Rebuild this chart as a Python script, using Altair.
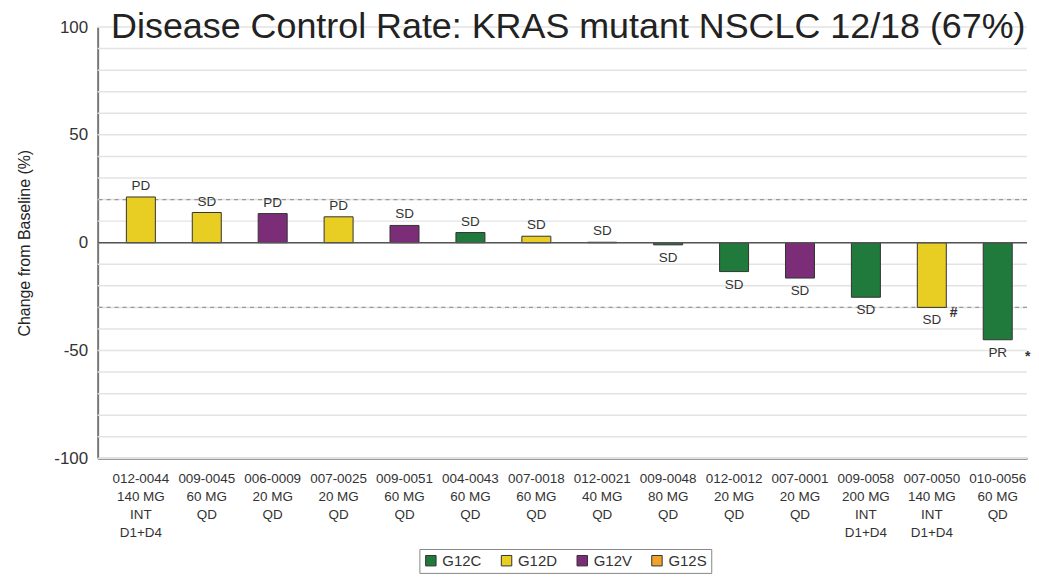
import altair as alt
import pandas as pd

patients = ["012-0044", "009-0045", "006-0009", "007-0025", "009-0051", "004-0043", "007-0018",
            "012-0021", "009-0048", "012-0012", "007-0001", "009-0058", "007-0050", "010-0056"]
doses = ["140 MG\nINT\nD1+D4", "60 MG\nQD", "20 MG\nQD", "20 MG\nQD", "60 MG\nQD", "60 MG\nQD",
         "60 MG\nQD", "40 MG\nQD", "80 MG\nQD", "20 MG\nQD", "20 MG\nQD", "200 MG\nINT\nD1+D4",
         "140 MG\nINT\nD1+D4", "60 MG\nQD"]
changes = [21.2, 14, 13.5, 12, 8, 4.7, 3, 0.2, -1, -13.4, -16.4, -25.3, -30, -45]
mutations = ["G12D", "G12D", "G12V", "G12D", "G12V", "G12C", "G12D",
             "G12S", "G12C", "G12C", "G12V", "G12C", "G12D", "G12C"]
responses = ["PD", "SD", "PD", "PD", "SD", "SD", "SD", "SD", "SD", "SD", "SD", "SD", "SD", "PR"]
markers = ["", "", "", "", "", "", "", "", "", "", "", "", "#", "*"]
thresholds = [20, -30]
y_labels = [-100, -50, 0, 50, 100]
grid_values = list(range(-100, 101, 10))

mut_domain = ["G12C", "G12D", "G12V", "G12S"]
mut_colors = ["#1f7a3c", "#e8cd22", "#7b2d77", "#f0a22c"]

df = pd.DataFrame({
    "patient": patients,
    "label": [p + "\n" + d for p, d in zip(patients, doses)],
    "change": changes,
    "mutation": mutations,
    "response": responses,
    "marker": markers,
})
order = list(df["label"])
FONT = "Liberation Sans"

x = alt.X("label:N", sort=order, title=None,
          scale=alt.Scale(paddingInner=0.56, paddingOuter=0.33, align=0.66),
          axis=alt.Axis(labelExpr="split(datum.label, '\\n')", labelAngle=0,
                        labelFontSize=13.5, labelLineHeight=18.3, labelColor="#333",
                        labelPadding=13, ticks=False, domainColor="#777",
                        domainWidth=2, labelFont=FONT, labelBaseline="top"))
y_scale = alt.Scale(domain=[-100, 100], nice=False)

grid = alt.Chart(pd.DataFrame({"v": grid_values})).mark_rule(
    color="#e3e3e3", strokeWidth=1.5).encode(y=alt.Y("v:Q", scale=y_scale))

bars = alt.Chart(df).mark_bar(stroke="#333", strokeWidth=1).encode(
    x=x,
    y=alt.Y("change:Q", scale=y_scale, title="Change from Baseline (%)",
            axis=alt.Axis(values=y_labels, grid=False,
                          labelExpr="replace(datum.label, '\u2212', '-')",
                          labelFontSize=17, labelColor="#333", labelPadding=10,
                          labelFont=FONT,
                          ticks=False, domainColor="#777", domainWidth=2,
                          titleFontSize=16, titleFontWeight="normal", titleColor="#222",
                          titleFont=FONT, titlePadding=21)),
    color=alt.Color("mutation:N", scale=alt.Scale(domain=mut_domain, range=mut_colors),
                    legend=alt.Legend(title=None, orient="none", legendX=323, legendY=524,
                                      direction="horizontal",
                                      symbolType="square", symbolSize=110,
                                      symbolStrokeColor="#333", symbolStrokeWidth=1,
                                      labelFontSize=15, labelColor="#333",
                                      labelFont=FONT,
                                      strokeColor="#888", padding=4,
                                      columnPadding=17)),
)

zero = alt.Chart(pd.DataFrame({"v": [0]})).mark_rule(color="#555", strokeWidth=1.5).encode(
    y=alt.Y("v:Q", scale=y_scale))

dashes = alt.Chart(pd.DataFrame({"v": thresholds})).mark_rule(
    color="#999", strokeDash=[4, 4], strokeWidth=1.2).encode(y=alt.Y("v:Q", scale=y_scale))

pos_lab = alt.Chart(df).transform_filter("datum.change >= 0").mark_text(
    baseline="bottom", dy=-4, fontSize=13.5, color="#333", font=FONT).encode(
    x=x, y=alt.Y("change:Q", scale=y_scale), text="response:N")

neg_lab = alt.Chart(df).transform_filter("datum.change < 0").mark_text(
    baseline="top", dy=6, fontSize=13.5, color="#333", font=FONT).encode(
    x=x, y=alt.Y("change:Q", scale=y_scale), text="response:N")

hash_lab = alt.Chart(df).transform_filter("datum.marker == '#'").mark_text(
    baseline="middle", dx=22, dy=6, fontSize=14, fontWeight="bold", color="#333",
    font=FONT).encode(
    x=x, y=alt.Y("change:Q", scale=y_scale), text="marker:N")

star_lab = alt.Chart(df).transform_filter("datum.marker == '*'").mark_text(
    baseline="middle", dx=30, dy=17, fontSize=14, fontWeight="bold", color="#333",
    font=FONT).encode(
    x=x, y=alt.Y("change:Q", scale=y_scale), text="marker:N")

chart = alt.layer(grid, dashes, bars, zero, pos_lab, neg_lab, hash_lab, star_lab).properties(
    width=933, height=433,
    title=alt.TitleParams("Disease Control Rate: KRAS mutant NSCLC 12/18 (67%)",
                          fontSize=36, fontWeight="normal", color="#222",
                          font=FONT, anchor="middle", offset=-28, dx=6),
    padding={"left": 8, "top": 0, "right": 0, "bottom": 0},
).configure_view(strokeWidth=0)

chart.save("out.html", embed_options={"renderer": "svg", "actions": False})
